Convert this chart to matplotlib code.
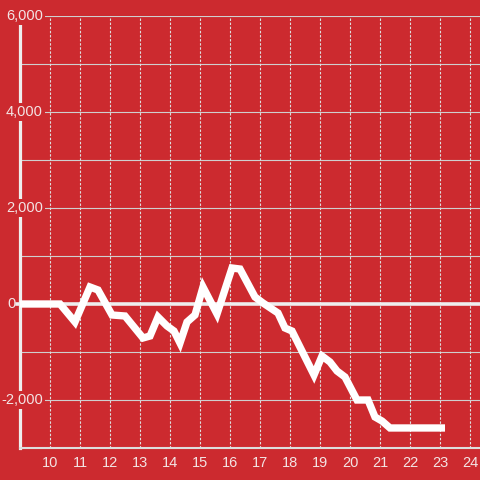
import matplotlib
matplotlib.use("Agg")
import matplotlib.pyplot as plt
from matplotlib.ticker import FixedLocator

# Data (hour of day, value)
hours = [9.0, 10.333, 10.833, 11.333, 11.6, 12.067, 12.5, 13.1, 13.333, 13.6,
         13.9, 14.133, 14.333, 14.567, 14.833, 15.1, 15.567, 16.067, 16.333,
         16.833, 17.1, 17.6, 17.833, 18.067, 18.333, 18.8, 19.067, 19.333,
         19.567, 19.833, 20.233, 20.6, 20.833, 21.067, 21.333, 23.167]
values = [0, 0, -375, 354, 292, -229, -250, -708, -667, -271,
          -458, -563, -813, -375, -229, 354, -208, 750, 729,
          146, 21, -188, -500, -563, -896, -1479, -1083, -1208,
          -1396, -1521, -2000, -2000, -2354, -2438, -2583, -2583]

x_ticks = list(range(10, 25))
y_ticks = [6000, 4000, 2000, 0, -2000]
y_tick_labels = ["6,000", "4,000", "2,000", "0", "-2,000"]
y_grid = [6000, 5000, 4000, 3000, 2000, 1000, -1000, -2000]

plt.rcParams["font.family"] = "Liberation Sans"

BG = "#cc2a2f"
TXT = "#f3e4e4"
W, H = 480, 480
fig = plt.figure(figsize=(4.8, 4.8), dpi=100, facecolor=BG)
ax = fig.add_axes([20 / W, 1 - 448 / H, 460 / W, (448 - 16) / H])
ax.set_facecolor(BG)
ax.set_xlim(9.0, 9.0 + 460 / 30)
ax.set_ylim(-3000, 6000)

for s in ["top", "right"]:
    ax.spines[s].set_visible(False)
ax.spines["left"].set_color("#eeeeee")
ax.spines["left"].set_linewidth(2.3)
ax.spines["bottom"].set_color("#dddddd")
ax.spines["bottom"].set_linewidth(1.5)

# grid
for g in y_grid:
    ax.axhline(g, color="#cfcfcf", lw=0.8, zorder=1)
for xv in x_ticks:
    ax.axvline(xv, color="#dedede", lw=0.8, dashes=(2.2, 1.5), zorder=1)
ax.axhline(0, xmin=-3 / 460, color="#eeeeee", lw=2.6, zorder=2, clip_on=False)

ax.plot(hours, values, color="white", lw=5.3, solid_joinstyle="miter",
        solid_capstyle="butt", zorder=3)

ax.xaxis.set_major_locator(FixedLocator(x_ticks))
ax.set_xticklabels([str(v) for v in x_ticks])
ax.tick_params(axis="x", length=0, pad=5.5, labelcolor=TXT, labelsize=10.5)
ax.set_yticks([])

for v, lab in zip(y_ticks, y_tick_labels):
    dx = -4 if v == 0 else 23
    t = ax.annotate(lab, xy=(0, v), xycoords=("axes fraction", "data"),
                    xytext=(dx, 0), textcoords="offset pixels",
                    ha="right", va="center", color=TXT, fontsize=10.5,
                    annotation_clip=False, zorder=5)
    if v != 0:
        t.set_bbox(dict(facecolor=BG, edgecolor="none", pad=1.5))

fig.savefig("out.png", dpi=100, facecolor=BG)
